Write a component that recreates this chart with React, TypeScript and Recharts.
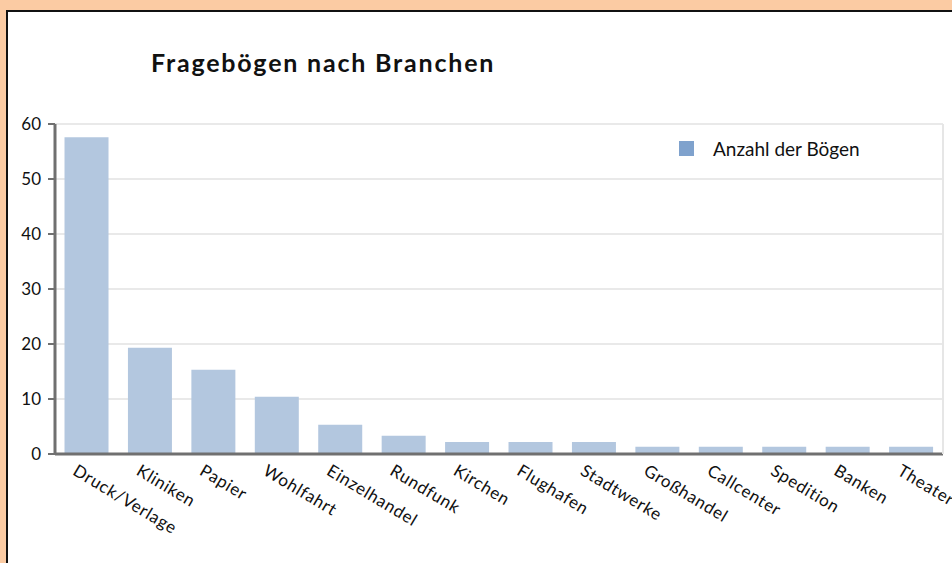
import React from 'react';
import { BarChart, Bar, XAxis, YAxis, CartesianGrid } from 'recharts';

const branchen = [
  'Druck/Verlage', 'Kliniken', 'Papier', 'Wohlfahrt', 'Einzelhandel', 'Rundfunk', 'Kirchen',
  'Flughafen', 'Stadtwerke', 'Großhandel', 'Callcenter', 'Spedition', 'Banken', 'Theater',
];
const anzahl = [57.6, 19.3, 15.3, 10.4, 5.3, 3.3, 2.2, 2.2, 2.2, 1.3, 1.3, 1.3, 1.3, 1.3];
const yTicks = [0, 10, 20, 30, 40, 50, 60];

const data = branchen.map((name, i) => ({ name, value: anzahl[i] }));

const FONT = 'Lato, "Open Sans", sans-serif';

const RotatedTick = (props: any) => {
  const { x, y, payload } = props;
  return (
    <g transform={`translate(${x - 15},${y + 12}) rotate(31)`}>
      <text x={0} y={0} textAnchor="start" fill="#111" fontSize={17} letterSpacing={0.7} fontFamily={FONT}>
        {payload.value}
      </text>
    </g>
  );
};

const App: React.FC = () => {
  return (
    <div style={{ position: 'relative', width: 952, height: 563, background: '#fbcba3', overflow: 'hidden' }}>
      <style>{`body{margin:0}`}</style>
      <div
        style={{
          position: 'absolute', left: 6, top: 10, width: 980, height: 600,
          background: '#fff', borderLeft: '2px solid #111', borderTop: '2px solid #111',
        }}
      />
      <div
        style={{
          position: 'absolute', left: 151, top: 47, fontFamily: FONT, fontWeight: 700,
          fontSize: 25, letterSpacing: 1.8, color: '#111', whiteSpace: 'nowrap',
        }}
      >
        Fragebögen nach Branchen
      </div>
      <div style={{ position: 'absolute', left: 0, top: 0 }}>
        <BarChart
          width={952}
          height={563}
          data={data}
          margin={{ top: 124, right: 0, left: 0, bottom: 0 }}
          barCategoryGap="15%"
        >
          <CartesianGrid vertical={false} stroke="#e9e9e9" strokeWidth={2} />
          <XAxis
            dataKey="name"
            interval={0}
            height={109}
            tickLine={false}
            axisLine={{ stroke: '#707070', strokeWidth: 3 }}
            tick={<RotatedTick />}
          />
          <YAxis
            domain={[0, 60]}
            ticks={yTicks}
            width={55}
            tickSize={7}
            tickMargin={7}
            tickLine={{ stroke: '#707070', strokeWidth: 2 }}
            axisLine={{ stroke: '#707070', strokeWidth: 3 }}
            tick={{ fill: '#111', fontSize: 17, fontFamily: FONT }}
          />
          <YAxis
            yAxisId="rand"
            orientation="right"
            width={9}
            tick={false}
            tickLine={false}
            axisLine={{ stroke: '#e6e6e6', strokeWidth: 2 }}
          />
          <Bar dataKey="value" name="Anzahl der Bögen" fill="#b3c7df" isAnimationActive={false} />
        </BarChart>
      </div>
      <div
        style={{
          position: 'absolute', left: 679, top: 137, display: 'flex', alignItems: 'center',
          fontFamily: FONT, fontSize: 19, color: '#111', whiteSpace: 'nowrap',
        }}
      >
        <span style={{ width: 15, height: 15, background: '#7fa2cd', display: 'inline-block', marginRight: 19 }} />
        Anzahl der Bögen
      </div>
    </div>
  );
};

export default App;
